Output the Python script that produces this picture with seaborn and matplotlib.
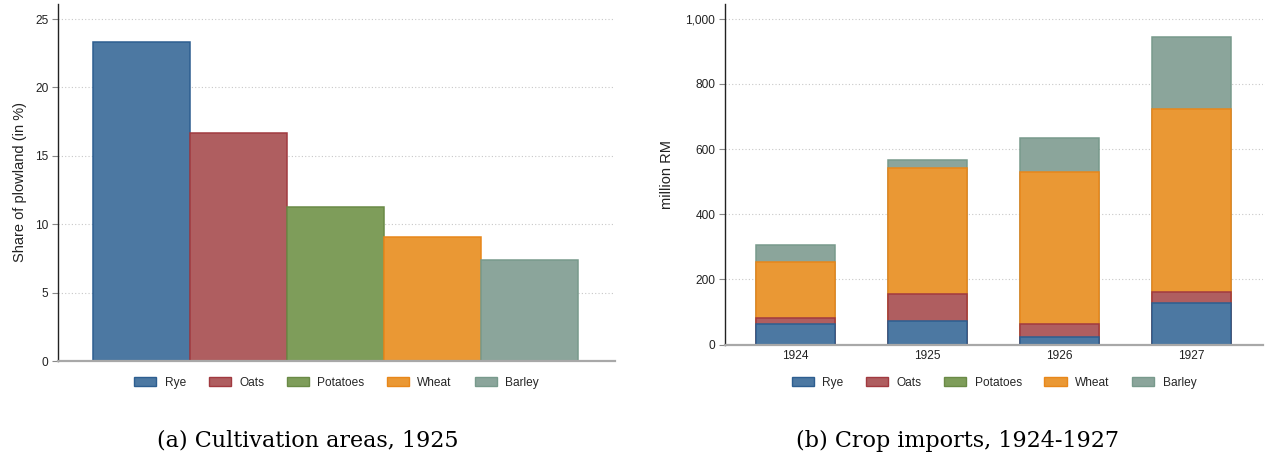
import matplotlib
matplotlib.use("Agg")
import matplotlib.pyplot as plt
import matplotlib.ticker as mticker
from matplotlib.patches import Patch
import seaborn as sns
import pandas as pd
import numpy as np

# ---- data ----
crops = ["Rye", "Oats", "Potatoes", "Wheat", "Barley"]
share_plowland = [23.3, 16.65, 11.25, 9.05, 7.4]

years = ["1924", "1925", "1926", "1927"]
imp_rye = [65, 73, 24, 127]
imp_oats = [17, 83, 40, 35]
imp_potatoes = [0, 0, 0, 0]
imp_wheat = [172, 387, 467, 562]
imp_barley = [51, 24, 103, 219]

fills = ["#4C78A2", "#AF5E60", "#7E9D5A", "#EA9834", "#8BA59B"]
edges = ["#2D5E90", "#A13A40", "#6A8A46", "#E8871A", "#789A8C"]

sns.set_theme(style="white")
plt.rcParams["font.family"] = ["Liberation Sans", "DejaVu Sans"]

fig = plt.figure(figsize=(12.73, 4.67), dpi=100)
W, H = 1273, 467


def axes_px(x0, x1, ytop, ybot):
    return fig.add_axes([x0 / W, 1 - ybot / H, (x1 - x0) / W, (ybot - ytop) / H])


def style_axes(ax, ticks, fmt=None):
    for s in ["top", "right"]:
        ax.spines[s].set_visible(False)
    ax.spines["left"].set_color("#222222")
    ax.spines["left"].set_linewidth(1.0)
    ax.spines["bottom"].set_color("#a8a8a8")
    ax.spines["bottom"].set_linewidth(1.6)
    ax.set_yticks(ticks)
    if fmt:
        ax.yaxis.set_major_formatter(fmt)
    ax.tick_params(axis="y", which="major", left=True, length=4, width=0.8,
                   color="#888888", labelsize=8.6, labelcolor="#222222", pad=3)
    for t in ticks[1:]:
        ax.axhline(t, color="#c8c8c8", lw=0.8, ls=(0, (1, 2)), zorder=0)
    ax.grid(False)
    ax.set_xlabel("")


# ---- left panel ----
ax1 = axes_px(58, 615, 4, 361)
df1 = pd.DataFrame({"crop": crops, "share": share_plowland})
sns.barplot(data=df1, x="crop", y="share", hue="crop", order=crops, hue_order=crops,
            palette=fills, width=1.0, legend=False, ax=ax1, saturation=1, zorder=2)
for p, ec in zip(ax1.patches, edges):
    p.set_edgecolor(ec)
    p.set_linewidth(1.1)
ax1.set_xlim(-0.86, 4.88)
ax1.set_ylim(0, 26.1)
style_axes(ax1, [0, 5, 10, 15, 20, 25])
ax1.set_xticks([])
ax1.set_ylabel("Share of plowland (in %)", fontsize=10.5, color="#222222", labelpad=6)

# ---- right panel (stacked) ----
ax2 = axes_px(725, 1263, 4, 344.7)
layers = [imp_rye, imp_oats, imp_potatoes, imp_wheat, imp_barley]
cum = np.cumsum(np.array(layers, dtype=float), axis=0)
for i in range(len(crops) - 1, -1, -1):
    if np.all(np.array(layers[i]) == 0):
        continue
    dfi = pd.DataFrame({"year": years, "value": cum[i]})
    sns.barplot(data=dfi, x="year", y="value", order=years, color=fills[i],
                saturation=1, width=0.6, ax=ax2, edgecolor=edges[i],
                linewidth=1.1, zorder=2)
ax2.set_xlim(-0.535, 3.54)
ax2.set_ylim(0, 1045)
style_axes(ax2, [0, 200, 400, 600, 800, 1000],
           mticker.FuncFormatter(lambda v, p: f"{int(v):,}"))
ax2.tick_params(axis="x", length=0, labelsize=8.6, labelcolor="#222222", pad=4)
ax2.set_ylabel("million RM", fontsize=10.5, color="#222222", labelpad=8)

# ---- legends ----
handles = [Patch(facecolor=f, edgecolor=e, linewidth=1.0, label=c)
           for f, e, c in zip(fills, edges, crops)]
for cx in [336.5, 994]:
    fig.legend(handles=handles, loc="center", bbox_to_anchor=(cx / W, 1 - 383 / H),
               ncol=5, frameon=False, fontsize=8.6, handlelength=1.85,
               handleheight=0.75, columnspacing=1.9, handletextpad=0.7)

# ---- captions ----
fig.text(307.5 / W, 1 - 441 / H, "(a) Cultivation areas, 1925", ha="center", va="center",
         family="DejaVu Serif", fontsize=16, color="black")
fig.text(957 / W, 1 - 441 / H, "(b) Crop imports, 1924-1927", ha="center", va="center",
         family="DejaVu Serif", fontsize=16, color="black")

fig.savefig("out.png", dpi=100)
